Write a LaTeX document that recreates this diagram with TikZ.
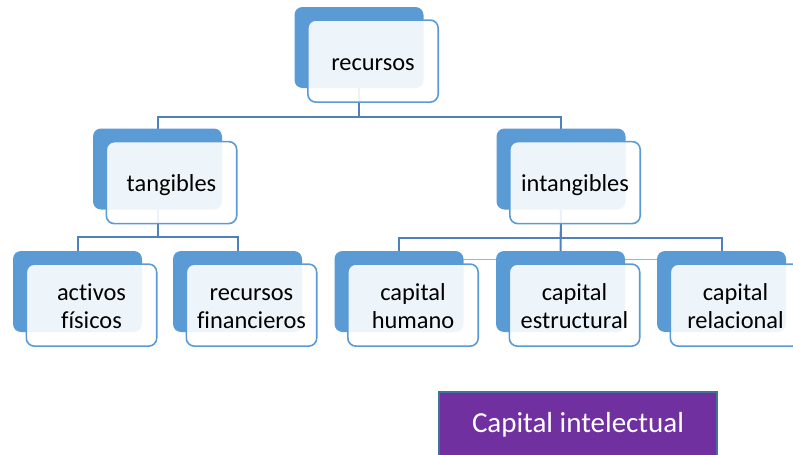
\documentclass[tikz,border=0pt]{standalone}
\usepackage{fontspec}
\setmainfont{Carlito}[Ligatures=NoCommon]
\usetikzlibrary{calc}
\usetikzlibrary{backgrounds}
\definecolor{boxblue}{HTML}{5B9BD5}
\definecolor{linkblue}{HTML}{4F81BD}
\definecolor{ciborder}{HTML}{41719C}
\definecolor{cipurple}{HTML}{7030A0}
\newcommand{\boxlines}[1]{\raisebox{-1.8pt}[\height][\depth]{\begin{tabular}{@{}c@{}}#1\end{tabular}}}

\begin{document}
\begin{tikzpicture}[x=0.5pt,y=-0.5pt]
\tikzstyle{back}=[fill=boxblue,draw=none,rounded corners=4pt,minimum width=64.5pt,minimum height=40.5pt,inner sep=0pt,outer sep=0pt]
\tikzstyle{front}=[draw=boxblue,line width=0.8pt,fill=white,fill opacity=0.9,text opacity=1,rounded corners=4pt,minimum width=65.2pt,minimum height=41pt,inner sep=0pt,font=\fontsize{12.2}{14.2}\selectfont,xshift=7pt,yshift=-6.8pt]
\tikzstyle{link}=[draw=linkblue,line width=1pt]
\tikzstyle{thinlink}=[draw=boxblue!70,line width=0.5pt]

\useasboundingbox (0,0) rectangle (793,455);

% TOP BOX
\node (recursos) [back] at (359,47.5) {};
\node (recursosF) [front] at (recursos.center) {\boxlines{recursos}};

% SECOND ROW
\node (tangibles) [back] at (157.5,169) {};
\node (tangiblesF) [front] at (tangibles.center) {\boxlines{tangibles}};
\node (intangibles) [back] at (561,169) {};
\node (intangiblesF) [front] at (intangibles.center) {\boxlines{intangibles}};

% THIRD ROW, LEFT
\node (activos) [back] at (77.5,291.5) {};
\node (activosF) [front] at (activos.center) {\boxlines{activos\\físicos}};
\node (financieros) [back] at (237.5,291.5) {};
\node (financierosF) [front] at (financieros.center) {\boxlines{recursos\\financieros}};

% THIRD ROW, RIGHT
\node (humano) [back] at (399,291.5) {};
\node (humanoF) [front] at (humano.center) {\boxlines{capital\\humano}};
\node (estructural) [back] at (560.5,291.5) {};
\node (estructuralF) [front] at (estructural.center) {\boxlines{capital\\estructural}};
\node (relacional) [back] at (721.5,291.5) {};
\node (relacionalF) [front] at (relacional.center) {\boxlines{capital\\relacional}};

% LABEL
\node (intelectual) [draw=ciborder,line width=1pt,fill=cipurple,text=white,minimum width=139pt,minimum height=33pt,inner sep=0pt,font=\fontsize{14.5}{17}\selectfont] at (578,425) {Capital intelectual};

% CONNECTORS
\begin{pgfonlayer}{background}
\draw [link] (recursos.center) -- ++(0,69.5) -| (tangibles.center);
\draw [link] (recursos.center) -- ++(0,69.5) -| (intangibles.center);
\draw [link] (tangibles.center) -- ++(0,68) -| (activos.center);
\draw [link] (tangibles.center) -- ++(0,68) -| (financieros.center);
\draw [link] (intangibles.center) -- ++(0,69) -| (humano.center);
\draw [link] (intangibles.center) -- ++(0,69) -| (relacional.center);
\draw [link] (intangibles.center) -- (estructural.center);
\draw [thinlink] ($(humano.center)+(0,-32.5)$) -- ($(relacional.center)+(0,-32.5)$);
\end{pgfonlayer}

\end{tikzpicture}
\end{document}
